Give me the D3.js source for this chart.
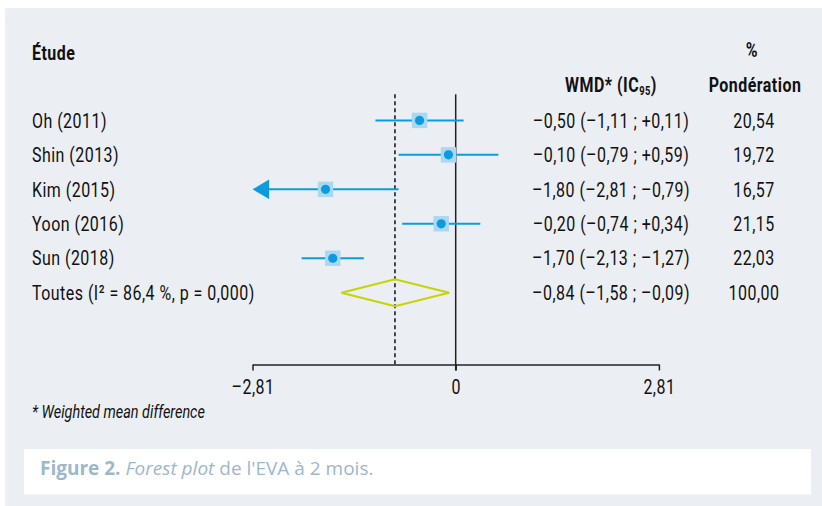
<!DOCTYPE html>
<html>
<head>
<meta charset="utf-8">
<script src="https://cdn.jsdelivr.net/npm/d3@7"></script>
<style>
  body { margin: 0; background: #fff; }
  svg text { font-family: Roboto, "Noto Sans", sans-serif; fill: #111; letter-spacing: 0.6px; }
  text.caption { font-family: "Open Sans", "Noto Sans", sans-serif; letter-spacing: 0; }
</style>
</head>
<body>
<svg id="chart" width="822" height="506"></svg>
<script>
// studies, weighted mean differences and 95% CI
const studies = ["Oh (2011)", "Shin (2013)", "Kim (2015)", "Yoon (2016)", "Sun (2018)"];
const wmd = [-0.50, -0.10, -1.80, -0.20, -1.70];
const ciLow = [-1.11, -0.79, -2.81, -0.74, -2.13];
const ciHigh = [0.11, 0.59, -0.79, 0.34, -1.27];
const weights = [20.54, 19.72, 16.57, 21.15, 22.03];

const pooledLabel = "Toutes (I² = 86,4 %, p = 0,000)";
const pooledWmd = -0.84;
const pooledLow = -1.58;
const pooledHigh = -0.09;
const pooledWeight = 100.00;

const axisTicks = [-2.81, 0, 2.81];

const blue = "#0d9be0";
const lightBlue = "#a9d8f3";
const squeeze = 0.78; // no condensed font installed, so narrow the glyphs

function num(v, plus) {
    var s = Math.abs(v).toFixed(2).replace('.', ',');
    if (v < 0) return '\u2013' + s;
    return (plus ? '+' : '') + s;
}

function label(parent, x, y, str, size, anchor) {
    return parent.append("text")
        .attr("transform", `translate(${x},${y}) scale(${squeeze},1)`)
        .attr("text-anchor", anchor || "start")
        .style("font-size", size + "px")
        .text(str);
}

var svg = d3.select("#chart");

// panel + caption box
svg.append("rect")
    .attr("x", 5).attr("y", 8)
    .attr("width", 817).attr("height", 498)
    .attr("fill", "#ebeef3");

svg.append("rect")
    .attr("x", 24).attr("y", 449)
    .attr("width", 787).attr("height", 45.5)
    .attr("fill", "#fff");

var xScale = d3.scaleLinear()
    .domain([-2.81, 2.81])
    .range([252.5, 658.9]);

var yScale = d3.scaleLinear()
    .domain([0, studies.length])
    .range([120.4, 292.7]);

var axisY = 364.5;
var lineTop = 94.3;
var fs = 20.5;
var base = 7.2;

// headers
label(svg, 32, 60, "Étude", fs).style("font-weight", "bold");

var wmdHead = label(svg, 611, 91.5, null, fs, "middle").style("font-weight", "bold");
wmdHead.append("tspan").text("WMD* (IC");
wmdHead.append("tspan").text("95").style("font-size", "12px").attr("dy", 3);
wmdHead.append("tspan").text(")").attr("dy", -3);

label(svg, 752, 57, "%", fs, "middle").style("font-weight", "bold");
label(svg, 755, 91.5, "Pondération", fs, "middle").style("font-weight", "bold");

// reference lines
svg.append("line")
    .attr("x1", xScale(0)).attr("x2", xScale(0))
    .attr("y1", lineTop).attr("y2", axisY + 6)
    .attr("stroke", "#222").attr("stroke-width", 1.5);

svg.append("line")
    .attr("x1", xScale(pooledWmd)).attr("x2", xScale(pooledWmd))
    .attr("y1", lineTop).attr("y2", axisY)
    .attr("stroke", "#111").attr("stroke-width", 1.5)
    .attr("stroke-dasharray", "4,3");

// study rows
var rows = svg.append("g")
    .selectAll("g")
    .data(studies)
    .enter()
    .append("g");

rows.each(function (d, i) {
    var g = d3.select(this);
    var y = yScale(i);
    label(g, 32, y + base, d, fs);
    label(g, 611, y + base, `${num(wmd[i])} (${num(ciLow[i], true)} ; ${num(ciHigh[i], true)})`, fs, "middle");
    label(g, 754, y + base, weights[i].toFixed(2).replace('.', ','), fs, "middle");
});

rows.append("line")
    .attr("x1", (d, i) => xScale(ciLow[i]) + (ciLow[i] <= -2.81 ? 10 : 0))
    .attr("x2", (d, i) => xScale(ciHigh[i]))
    .attr("y1", (d, i) => yScale(i))
    .attr("y2", (d, i) => yScale(i))
    .attr("stroke", blue).attr("stroke-width", 2);

// truncated CI gets an arrow
rows.filter((d, i) => ciLow[i] <= -2.81)
    .append("path")
    .attr("d", function (d) {
        var i = studies.indexOf(d);
        var x0 = xScale(ciLow[i]), y0 = yScale(i);
        return `M${x0},${y0} L${x0 + 16.6},${y0 - 9.7} L${x0 + 16.6},${y0 + 9.7} Z`;
    })
    .attr("fill", blue);

rows.append("rect")
    .attr("x", (d, i) => xScale(wmd[i]) - 7.7)
    .attr("y", (d, i) => yScale(i) - 7.7)
    .attr("width", 15.4).attr("height", 15.4)
    .attr("fill", lightBlue);

rows.append("circle")
    .attr("cx", (d, i) => xScale(wmd[i]))
    .attr("cy", (d, i) => yScale(i))
    .attr("r", 4.6)
    .attr("fill", blue);

// pooled row
var py = yScale(studies.length);
label(svg, 32, py + base, pooledLabel, fs);

svg.append("path")
    .attr("d", `M${xScale(pooledLow)},${py} L${xScale(pooledWmd)},${py - 13.4} L${xScale(pooledHigh)},${py} L${xScale(pooledWmd)},${py + 13.4} Z`)
    .attr("fill", "none")
    .attr("stroke", "#c6d400").attr("stroke-width", 2);

label(svg, 611, py + base, `${num(pooledWmd)} (${num(pooledLow, true)} ; ${num(pooledHigh, true)})`, fs, "middle");
label(svg, 754, py + base, pooledWeight.toFixed(2).replace('.', ','), fs, "middle");

// x axis
var xAxis = d3.axisBottom(xScale)
    .tickValues(axisTicks)
    .tickSize(6)
    .tickSizeOuter(0)
    .tickPadding(9)
    .tickFormat(d => d === 0 ? "0" : num(d));

var xAxisEl = svg.append("g")
    .attr("class", "axis")
    .attr("transform", `translate(0, ${axisY})`)
    .call(xAxis)
    .attr("font-family", null)
    .attr("font-size", null);

xAxisEl.select(".domain").attr("stroke", "#222").attr("stroke-width", 1.5);
xAxisEl.selectAll(".tick line").attr("stroke", "#222").attr("stroke-width", 1.5);
xAxisEl.selectAll(".tick text")
    .style("font-size", fs + "px")
    .attr("transform", `scale(${squeeze},1)`)
    .attr("fill", "#111");

// footnote
label(svg, 32, 418, "* Weighted mean difference", 18.5)
    .style("font-style", "italic")
    .style("letter-spacing", "0px");

// caption
var cap = svg.append("text")
    .attr("class", "caption")
    .attr("x", 40).attr("y", 475)
    .style("font-size", "19px")
    .style("fill", "#9db7cb");
cap.append("tspan").text("Figure 2.").style("font-weight", "bold");
cap.append("tspan").text(" Forest plot").style("font-style", "italic");
cap.append("tspan").text(" de l'EVA à 2 mois.");
</script>
</body>
</html>
